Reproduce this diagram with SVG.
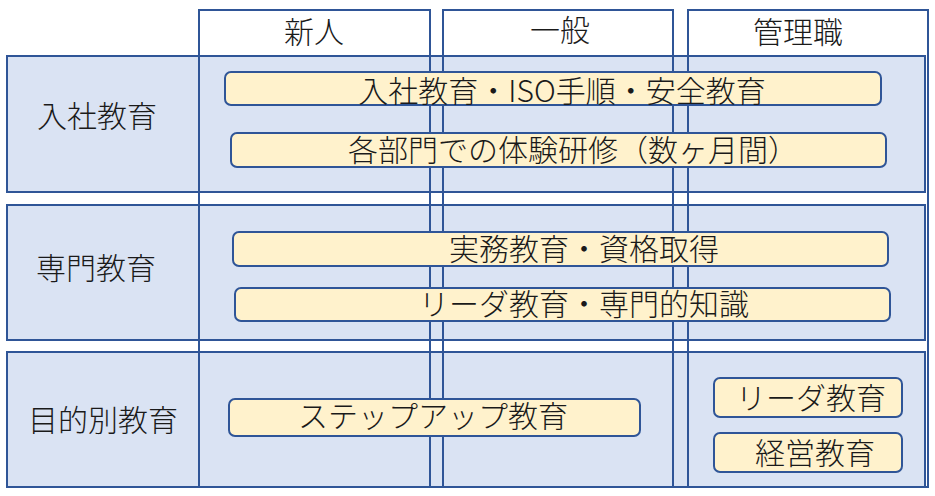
<svg xmlns="http://www.w3.org/2000/svg" width="935" height="496" viewBox="0 0 935 496">
<style>
.row{fill:#DAE3F3;stroke:#2F5597;stroke-width:2}
.col{fill:none;stroke:#2F5597;stroke-width:2}
.box{fill:#FFF2CC;stroke:#2F5597;stroke-width:2}
text{font-family:"Noto Sans CJK JP","Noto Sans",sans-serif;font-size:30px;font-weight:300;fill:#1a1a1a;text-anchor:middle}
</style>
<rect width="935" height="496" fill="#fff"/>
<g id="row1"><rect class="row" x="7" y="56" width="918" height="136"/><text x="97" y="127">入社教育</text></g>
<g id="row2"><rect class="row" x="7" y="205" width="918" height="135"/><text x="96" y="279">専門教育</text></g>
<g id="row3"><rect class="row" x="7" y="352" width="918" height="135"/><text x="103" y="431">目的別教育</text></g>
<g id="col1"><rect class="col" x="199" y="10" width="231" height="477"/><text x="314" y="43">新人</text></g>
<g id="col2"><rect class="col" x="443" y="10" width="230" height="477"/><text x="560" y="41">一般</text></g>
<g id="col3"><rect class="col" x="688" y="10" width="240" height="477"/><text x="798" y="43">管理職</text></g>
<g id="b1"><rect class="box" x="225" y="72" width="656" height="33" rx="6"/><text x="562" y="102">入社教育・ISO手順・安全教育</text></g>
<g id="b2"><rect class="box" x="231" y="133" width="655" height="34" rx="6"/><text x="573" y="161">各部門での体験研修（数ヶ月間）</text></g>
<g id="b3"><rect class="box" x="233" y="232" width="655" height="34" rx="6"/><text x="584" y="260">実務教育・資格取得</text></g>
<g id="b4"><rect class="box" x="235" y="288" width="655" height="33" rx="6"/><text x="584" y="315">リーダ教育・専門的知識</text></g>
<g id="b5"><rect class="box" x="229" y="399" width="411" height="37" rx="6"/><text x="433" y="427">ステップアップ教育</text></g>
<g id="b6"><rect class="box" x="714" y="378" width="188" height="39" rx="6"/><text x="811" y="409">リーダ教育</text></g>
<g id="b7"><rect class="box" x="714" y="433" width="188" height="39" rx="6"/><text x="815" y="464">経営教育</text></g>
</svg>
